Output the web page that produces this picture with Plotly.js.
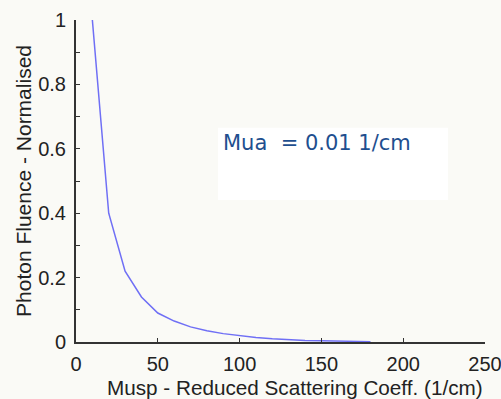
<!DOCTYPE html>
<html>
<head>
<meta charset="utf-8">
<script src="https://cdn.plot.ly/plotly-3.0.1.min.js"></script>
<style>
html,body{margin:0;padding:0;background:#fafaf6;}
#chart{width:501px;height:399px;}
</style>
</head>
<body>
<div id="chart"></div>
<script>
// Reduced scattering coefficient (1/cm)
const musp = [10, 20, 30, 40, 50, 60, 70, 80, 90, 100, 110, 120, 130, 140, 150, 160, 170, 180];
// Normalised photon fluence
const fluence = [1.0, 0.40, 0.22, 0.14, 0.09, 0.065, 0.047, 0.035, 0.026, 0.019, 0.014, 0.010, 0.007, 0.005, 0.004, 0.003, 0.002, 0.001];
const xTicks = [0, 50, 100, 150, 200, 250];
const yTicks = [0, 0.2, 0.4, 0.6, 0.8, 1];
const yTickText = ['0', '0.2', '0.4', '0.6', '0.8', '1'];
const xTitle = 'Musp - Reduced Scattering Coeff. (1/cm)';
const yTitle = 'Photon Fluence - Normalised';
const noteText = 'Mua  = 0.01 1/cm';

const font = "Liberation Sans, Arial, sans-serif";
const noteFont = "DejaVu Sans, Verdana, sans-serif";

const trace = {
  x: musp, y: fluence, type: 'scatter', mode: 'lines',
  line: {color: '#6f6ff5', width: 1.5},
  hoverinfo: 'skip'
};

const layout = {
  width: 501, height: 399,
  margin: {l: 76, r: 16, t: 20, b: 57},
  paper_bgcolor: '#fafaf6',
  plot_bgcolor: '#fafaf6',
  showlegend: false,
  font: {family: font, color: '#222', size: 20},
  xaxis: {
    range: [0, 250], tickvals: xTicks, ticktext: xTicks.map(String),
    showgrid: false, zeroline: false, showline: true, linecolor: '#333', linewidth: 2,
    ticks: 'inside', ticklen: 4, tickcolor: '#333',
    ticklabeloverflow: 'allow', ticklabelstandoff: 3,
    tickfont: {family: font, size: 20, color: '#222'},
    fixedrange: true
  },
  yaxis: {
    range: [0, 1], tickvals: yTicks, ticktext: yTickText,
    showgrid: false, zeroline: false, showline: true, linecolor: '#333', linewidth: 2,
    ticks: 'inside', ticklen: 4, tickcolor: '#333',
    ticklabelstandoff: 4,
    minor: {dtick: 0.1, ticks: 'inside', ticklen: 4, tickcolor: '#333'},
    tickfont: {family: font, size: 20, color: '#222'},
    title: {text: yTitle, font: {family: font, size: 21, color: '#222'}, standoff: 1},
    fixedrange: true
  },
  shapes: [{
    type: 'rect', xref: 'paper', yref: 'paper',
    x0: 0.347, x1: 0.9095, y0: 0.441, y1: 0.665,
    fillcolor: '#ffffff', line: {width: 0}, layer: 'below'
  }],
  annotations: [{
    xref: 'paper', yref: 'paper', x: 0.355, y: 0.618,
    xanchor: 'left', yanchor: 'middle', showarrow: false,
    text: noteText,
    font: {family: noteFont, size: 21, color: '#1f4f8f'}
  }, {
    xref: 'paper', yref: 'paper', x: 1, y: -0.14,
    xanchor: 'right', yanchor: 'middle', showarrow: false,
    text: xTitle,
    font: {family: font, size: 20.7, color: '#222'}
  }]
};

Plotly.newPlot('chart', [trace], layout, {staticPlot: true, displayModeBar: false});
</script>
</body>
</html>
